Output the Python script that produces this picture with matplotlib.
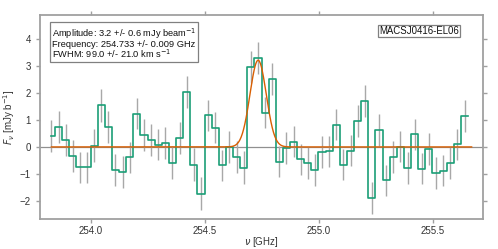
import numpy as np
import matplotlib
matplotlib.use("Agg")
import matplotlib.pyplot as plt

plt.rcParams['font.family'] = ['Liberation Sans', 'DejaVu Sans']
plt.rcParams['mathtext.fontset'] = 'dejavusans'

# channel grid (GHz)
nu_start = 253.826
dnu = 0.03125
n_chan = 60

flux = [0.41, 0.73, 0.25, -0.33, -0.75, -0.75, 0.05, 1.53, 0.73, -0.85,
        -0.93, -0.39, 1.23, 0.44, 0.26, 0.08, 0.14, -0.58, 0.33, 2.03,
        -0.65, -1.72, 1.17, 0.71, -0.68, 0.00, -0.37, -0.76, 2.95, 3.29,
        1.27, 2.50, -0.54, -0.04, 0.20, -0.46, -0.60, -0.85, -0.18, -0.16,
        0.82, -0.65, -0.14, 0.95, 1.70, -1.89, 0.63, -1.23, -0.37, 0.01,
        -0.77, 0.46, -0.80, -0.07, -0.97, -0.87, -0.60, 0.10, 1.14, np.nan]
err = [0.60, 0.58, 0.58, 0.60, 0.58, 0.58, 0.60, 0.60, 0.58, 0.60,
       0.60, 0.58, 0.58, 0.58, 0.58, 0.58, 0.58, 0.60, 0.58, 0.60,
       0.60, 0.60, 0.58, 0.58, 0.58, 0.58, 0.58, 0.60, 0.58, 0.58,
       0.58, 0.58, 0.58, 0.58, 0.58, 0.58, 0.58, 0.58, 0.58, 0.58,
       0.58, 0.58, 0.58, 0.58, 0.58, 0.58, 0.58, 0.58, 0.58, 0.58,
       0.58, 0.58, 0.58, 0.58, 0.58, 0.58, 0.58, 0.58, 0.58, np.nan]

# Gaussian fit parameters
amp = 3.2
nu0 = 254.733
fwhm_kms = 99.0

freq = nu_start + dnu * np.arange(n_chan)
sigma = fwhm_kms / 299792.458 * nu0 / 2.3548
nu_fine = np.linspace(freq[0], freq[-1], 1000)
model = amp * np.exp(-0.5 * ((nu_fine - nu0) / sigma) ** 2)

teal = '#1b9e77'
orange = '#d95f02'
spine_c = '#a0a0a0'

fig = plt.figure(figsize=(4.98, 2.49), dpi=100)
ax = fig.add_axes([0.0803, 0.1205, 0.8893, 0.8193])

ax.axhline(0, color='#909090', lw=0.9, zorder=1)
ax.errorbar(freq, flux, yerr=err, fmt='none', ecolor='#a8a8a8', elinewidth=1.0, zorder=2)
ax.step(freq, flux, where='mid', color=teal, lw=1.2, zorder=3)
ax.plot(nu_fine, model, color=orange, lw=1.0, zorder=4)

ax.set_xlim(253.776, 255.719)
ax.set_ylim(-2.66, 4.87)
ax.set_xticks([254.0, 254.5, 255.0, 255.5])
ax.set_yticks([-2, -1, 0, 1, 2, 3, 4])

for s in ax.spines.values():
    s.set_color(spine_c)
    s.set_linewidth(1.3)
ax.tick_params(direction='out', length=3, width=1, color=spine_c, labelsize=7,
               labelcolor='#333333', top=True, right=True, labeltop=False, labelright=False)
ax.tick_params(axis='x', pad=2)

ax.set_xlabel(r'$\nu$ [GHz]', fontsize=7, color='#333333', labelpad=-0.5)
ax.set_ylabel(r'$F_\nu$ [mJy b$^{-1}$]', fontsize=7, color='#333333', labelpad=2)

txt = ('Amplitude: 3.2 +/- 0.6 mJy beam$^{-1}$\n'
       'Frequency: 254.733 +/- 0.009 GHz\n'
       'FWHM: 99.0 +/- 21.0 km s$^{-1}$')
ax.text(0.026, 0.945, txt, transform=ax.transAxes, fontsize=6.7, va='top', ha='left',
        linespacing=0.85, color='#111111',
        bbox=dict(boxstyle='square,pad=0.2', facecolor='white', edgecolor='#808080', lw=0.9))
ax.text(0.946, 0.946, 'MACSJ0416-EL06', transform=ax.transAxes, fontsize=6.9, va='top', ha='right',
        color='#111111',
        bbox=dict(boxstyle='square,pad=0.12', facecolor='white', edgecolor='#808080', lw=0.9))

fig.savefig('out.png', dpi=100)
